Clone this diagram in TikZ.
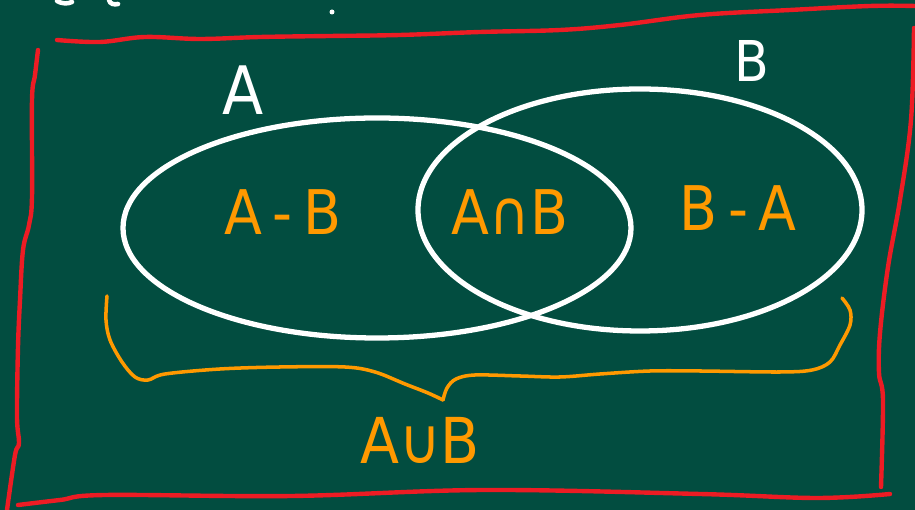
\documentclass[tikz,border=0pt]{standalone}
\usepackage{fontspec}
\setmainfont{DejaVu Sans Condensed}
\definecolor{board}{RGB}{2,77,64}
\definecolor{redline}{RGB}{237,28,36}
\definecolor{chalkorange}{RGB}{255,153,0}
\begin{document}
\begin{tikzpicture}[x=0.01cm,y=-0.01cm,
  frame/.style={draw=redline,line width=1.25pt,line cap=round,line join=round},
  setline/.style={draw=white,line width=1.5pt},
  bracestroke/.style={draw=chalkorange,line width=1pt,line cap=round,line join=round},
  whitelbl/.style={text=white,inner sep=0pt},
  orangelbl/.style={text=chalkorange,inner sep=0pt}]
\fill[board] (0,0) rectangle (915,510);
\useasboundingbox (0,0) rectangle (915,510);
% cut-off fragments at the top
\draw[white,line width=1.3pt,line cap=round] (57,1) .. controls (62,4) and (68,4) .. (72,2);
\draw[white,line width=1.3pt,line cap=round] (109,0) .. controls (110,4) and (114,5) .. (118,4);
\fill[white] (332,12) circle [radius=2.5];
% red frame
\draw[frame] plot[smooth,tension=0.6] coordinates {(57,40)(100,42)(145,37)(200,39)(260,37)(330,36)(400,35)(480,32)(560,30)(620,25)(700,15)(790,10)(870,6)(915,6)};
\draw[frame] plot[smooth,tension=0.6] coordinates {(38,50)(35,75)(32,100)(32,197)(29,225)(23,250)(20,300)(18,347)(17,417)(19,443)(15,455)(7,510)};
\draw[frame] plot[smooth,tension=0.6] coordinates {(18,505)(60,500)(105,495)(292,496)(484,490)(700,494)(817,498)(890,494)};
\draw[frame] plot[smooth,tension=0.6] coordinates {(914,28)(911,120)(900,200)(888,267)(880,333)(879,373)(883,400)(881,487)};
% sets
\draw[setline] (377,228) ellipse [x radius=254, y radius=110];
\draw[setline] (640,210) ellipse [x radius=222, y radius=121];
% brace
\draw[bracestroke] plot[smooth,tension=0.55] coordinates {(107,296)(106,320)(110,340)(122,362)(135,377)(148,380)(165,374)(220,369)(280,367)(345,367)(375,372)(405,384)(428,393)(443,400)};
\draw[bracestroke] plot[smooth,tension=0.55] coordinates {(443,400)(447,388)(456,379)(475,375)(520,376)(560,377)(600,374)(650,371)(700,371)(780,372)(812,370)(830,362)(840,345)(850,325)(850,310)(842,298)};
% labels
\node[whitelbl,font=\fontsize{19}{19}\selectfont] (lA) at (243,90) {A};
\node[whitelbl,font=\fontsize{16}{16}\selectfont] (lB) at (752,61) {B};
\node[orangelbl,font=\fontsize{17.5}{17.5}\selectfont] (amb) at (283,212) {A\,-\,B};
\node[orangelbl,font=\fontsize{17.5}{17.5}\selectfont] (acb) at (510,212) {A∩B};
\node[orangelbl,font=\fontsize{17.5}{17.5}\selectfont] (bma) at (738,208) {B\,-\,A};
\node[orangelbl,font=\fontsize{18}{18}\selectfont] (aub) at (420,440) {A∪B};
\end{tikzpicture}
\end{document}
